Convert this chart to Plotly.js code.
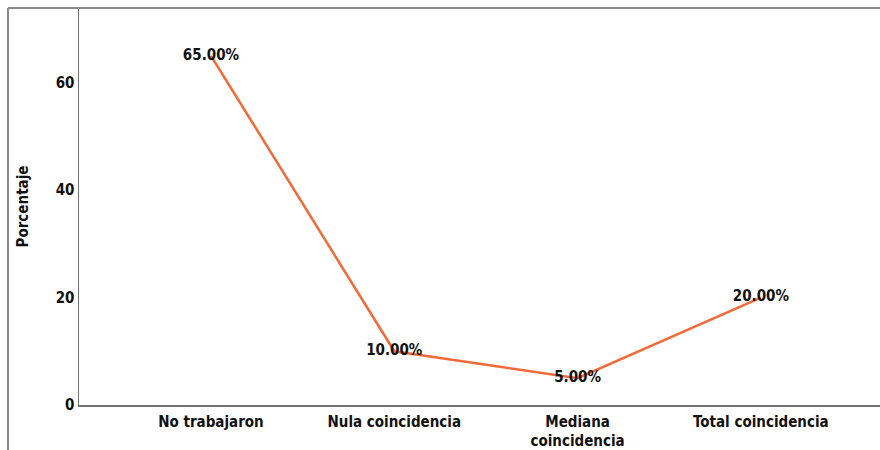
<!DOCTYPE html>
<html><head><meta charset="utf-8">
<script src="https://cdn.plot.ly/plotly-3.0.1.min.js"></script>
<style>html,body{margin:0;padding:0;background:#fff;}#chart{width:880px;height:450px;}</style>
</head><body><div id="chart"></div>
<script>
const categories = ["No trabajaron", "Nula coincidencia", "Mediana<br>coincidencia", "Total coincidencia"];
const percentages = [65, 10, 5, 20];
const pointLabels = ["65.00%", "10.00%", "5.00%", "20.00%"];
const yTicks = [0, 20, 40, 60];

const font = "'Liberation Sans Narrow', 'Arial Narrow', 'DejaVu Sans Condensed', sans-serif";

const trace = {
  x: categories, y: percentages, type: "scatter", mode: "lines+text",
  line: {color: "#f26a38", width: 2.5},
  text: pointLabels, textposition: "middle center",
  textfont: {family: font, size: 15, color: "#111", weight: "bold"},
  cliponaxis: false, hoverinfo: "skip"
};

const L = 79, W = 801;
const layout = {
  width: 880, height: 450,
  margin: {l: 79, r: 0, t: 8, b: 45},
  paper_bgcolor: "#fff", plot_bgcolor: "#fff",
  showlegend: false,
  xaxis: {
    type: "category", range: [-0.72, 3.65],
    showline: true, linecolor: "#707070", linewidth: 1.5,
    showgrid: false, zeroline: false, ticks: "",
    tickfont: {family: font, size: 15, color: "#111", weight: "bold"},
    ticklabelstandoff: 2,
    fixedrange: true
  },
  yaxis: {
    range: [0, 73.9], tickvals: yTicks, ticktext: yTicks.map(String),
    showline: true, linecolor: "#707070", linewidth: 1.5,
    showgrid: false, zeroline: false, ticks: "", ticklen: 0,
    tickfont: {family: font, size: 15, color: "#111", weight: "bold"},
    title: {text: "Porcentaje", font: {family: font, size: 15, color: "#111", weight: "bold"}, standoff: 23},
    fixedrange: true
  },
  shapes: [
    {type: "line", xref: "paper", yref: "paper", x0: (8 - L) / W, x1: 1, y0: 1, y1: 1, line: {color: "#8a8a8a", width: 2}},
    {type: "line", xref: "paper", yref: "paper", x0: (8 - L) / W, x1: (8 - L) / W, y0: 1, y1: -45 / 397, line: {color: "#8a8a8a", width: 2}}
  ]
};

Plotly.newPlot("chart", [trace], layout, {displayModeBar: false, staticPlot: true});
</script>
</body></html>
